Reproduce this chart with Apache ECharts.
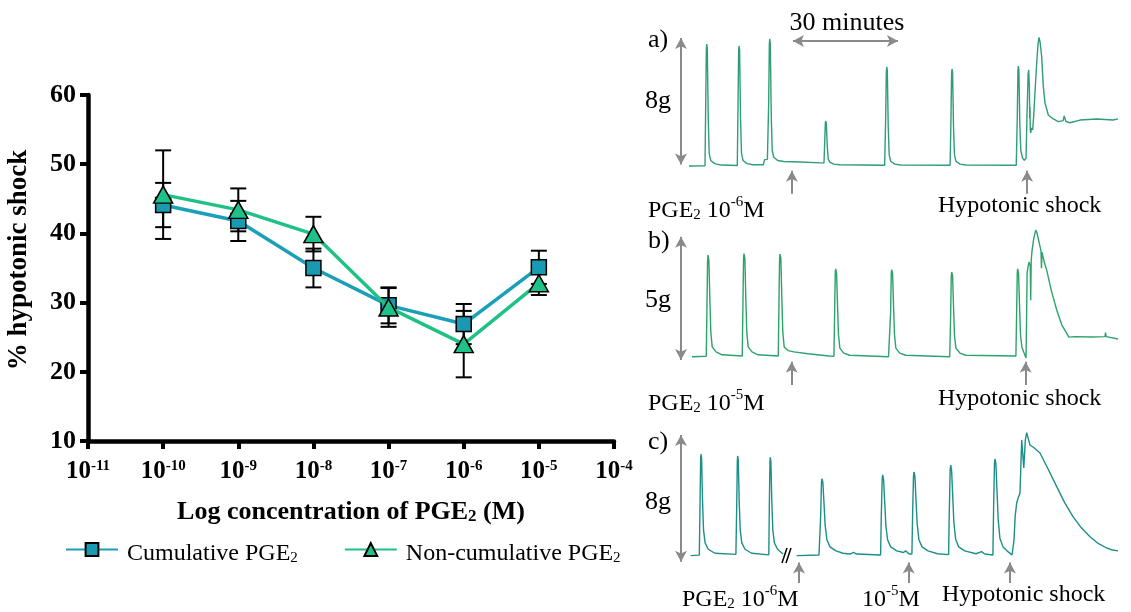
<!DOCTYPE html>
<html><head><meta charset="utf-8">
<script src="https://cdn.jsdelivr.net/npm/echarts@6/dist/echarts.min.js"></script>
<style>html,body{margin:0;padding:0;background:#fff}#c{width:1131px;height:612px}</style>
</head><body><div id="c"></div>
<script>
const F = '"Liberation Serif","Times New Roman",serif';

// ---- left panel data ----
const exponents = [-10, -9, -8, -7, -6, -5];
const cumulativeMean = [44.1, 41.8, 35.0, 29.6, 26.9, 35.1];
const cumulativeErr  = [3.2, 2.9, 2.8, 2.6, 2.9, 2.4];
const nonCumMean     = [45.6, 43.4, 39.9, 29.3, 24.0, 32.8];
const nonCumErr      = [6.4, 3.1, 2.5, 2.8, 4.8, 1.7];
const yTickMin = 10, yTickMax = 60, yTickStep = 10;
const xTickMin = -11, xTickMax = -4;

// ---- right panel traces: [time (min), tension (g)] ----
const traceA = [[0,0],[4.57,0.02],[4.77,3.8],[4.95,7.3],[5.06,7.67],[5.23,7.4],[5.49,3.1],[5.77,0.8],[6.2,0.35],[7.35,0.15],[9.06,0.06],[13.8,0.03],
[14.0,3.7],[14.18,7.2],[14.29,7.55],[14.46,7.3],[14.72,3.0],[15.0,0.8],[15.43,0.35],[16.58,0.15],[18.3,0.08],[21.2,0.08],[21.43,0.19],[21.6,0.4],[22.4,0.42],
[22.57,0.45],[22.77,4.0],[22.95,7.6],[23.06,7.99],[23.23,7.7],[23.49,3.3],[23.77,1.0],[24.2,0.55],[25.35,0.35],[27.06,0.28],[31.7,0.25],[37.7,0.2],
[38.57,0.2],[38.77,1.5],[38.95,2.7],[39.06,2.83],[39.23,2.7],[39.49,1.3],[39.77,0.45],[40.2,0.25],[41.35,0.12],[43.06,0.08],[55.9,0.05],
[56.2,3.1],[56.38,5.9],[56.49,6.23],[56.66,6.0],[56.92,2.5],[57.2,0.7],[57.63,0.3],[58.78,0.12],[60.5,0.06],[74.6,0.05],
[74.85,3.0],[75.03,5.8],[75.14,6.1],[75.31,5.9],[75.57,2.5],[75.85,0.7],[76.28,0.3],[77.43,0.12],[79.14,0.06],[93.5,0.05],
[93.8,3.1],[93.98,6.0],[94.09,6.29],[94.26,6.0],[94.52,2.6],[94.8,1.0],[95.3,0.5],[95.8,0.35],[96.0,0.27],[96.3,0.5],[96.55,3.0],[96.9,5.8],[97.06,6.04],[97.25,5.0],[97.35,3.0],[97.43,3.73],[97.5,2.3],[97.63,2.08],[97.9,2.4],[98.2,2.27],[98.5,3.2],[99.0,5.2],[99.34,6.48],[99.7,7.6],[100.0,8.09],[100.3,7.8],[100.77,6.87],[101.23,4.99],[101.71,3.96],[102.66,3.21],[104.09,2.96],[105.51,2.79],[106.9,2.85],[107.2,3.15],[107.43,3.08],[107.7,2.8],[108.86,2.72],[111.71,2.89],[116.49,2.96],[121.14,2.89],[122.57,2.96]];
const traceB = [[0.86,0],[4.93,0.02],[5.13,2.0],[5.31,3.9],[5.43,4.13],[5.68,3.9],[5.93,2.5],[6.23,1.0],[6.63,0.4],[7.73,0.2],[9.43,0.08],
[15.21,0.03],[15.41,2.1],[15.59,4.0],[15.71,4.19],[15.96,4.0],[16.21,2.5],[16.51,1.0],[16.91,0.4],[18.0,0.2],[19.7,0.08],
[25.5,0.03],[25.7,2.1],[25.88,4.0],[26.0,4.17],[26.25,4.0],[26.5,2.5],[26.8,1.0],[27.2,0.4],[28.3,0.25],[30.0,0.2],[34,0.12],[40,0.03],
[41.41,0.02],[41.61,1.8],[41.79,3.4],[41.91,3.57],[42.16,3.4],[42.41,2.2],[42.71,0.9],[43.11,0.35],[44.2,0.15],[45.9,0.06],[57.0,0.0],
[57.41,0.0],[57.61,1.8],[57.79,3.4],[57.91,3.54],[58.16,3.4],[58.41,2.2],[58.71,0.9],[59.11,0.35],[60.2,0.15],[61.9,0.06],[74.5,0.0],
[74.56,0.0],[74.76,1.7],[74.94,3.3],[75.06,3.44],[75.31,3.3],[75.56,2.1],[75.86,0.85],[76.26,0.35],[77.4,0.15],[79.1,0.06],[93.4,0.03],
[93.61,1.8],[93.79,3.4],[93.91,3.57],[94.16,3.4],[94.41,2.2],[94.71,0.9],[95.11,0.4],[95.6,0.2],[96.29,-0.05],
[96.45,1.5],[96.6,3.4],[96.86,3.65],[97.14,3.85],[97.5,3.7],[97.63,2.3],[97.77,3.9],[98.0,4.3],[98.5,4.8],[99.06,5.15],[99.4,5.05],[100.0,4.67],[100.57,4.3],[100.71,3.6],[100.86,4.25],[101.5,3.85],[102.2,3.52],[103.5,2.7],[105.06,1.9],[106.5,1.3],[107.9,0.96],[108.5,0.8],[110.3,0.82],[115.0,0.8],[118.86,0.82],[119.0,0.98],[119.2,0.82],[122.57,0.72]];
const traceC1 = [[0.49,0],[2.95,0.03],[3.15,3.2],[3.33,6.1],[3.43,6.38],[3.6,6.1],[3.86,3.5],[4.15,1.6],[4.6,0.8],[5.5,0.4],[7.4,0.15],[13.4,0.08],
[13.63,3.1],[13.81,6.0],[13.91,6.27],[14.08,6.0],[14.34,3.4],[14.63,1.6],[15.08,0.8],[16.0,0.4],[17.9,0.15],[22.8,0.05],
[22.95,3.1],[23.13,5.9],[23.23,6.19],[23.4,5.9],[23.66,3.4],[23.95,1.6],[24.4,0.8],[25.3,0.4],[26.86,0.1]];
const traceC2 = [[30.77,0],[37.14,0.04],[37.4,0.1],[37.6,2.4],[37.85,4.6],[38.0,4.84],[38.25,4.6],[38.57,3.3],[38.9,1.9],[39.4,1.0],[40.29,0.55],[42.0,0.3],[44,0.15],[46.0,0.1],[47.0,0.2],[47.43,0.25],[47.9,0.1],[48.29,0.04],[54.74,0.04],
[54.94,2.5],[55.19,4.8],[55.34,5.08],[55.59,4.8],[55.91,3.4],[56.24,1.9],[56.74,1.0],[57.63,0.55],[59.34,0.3],[61.3,0.2],[61.9,0.3],[62.4,0.3],[62.9,0.1],[63.69,0.1],
[63.89,2.6],[64.14,5.0],[64.29,5.26],[64.54,5.0],[64.86,3.5],[65.19,2.0],[65.69,1.0],[66.58,0.55],[68.29,0.3],[71,0.12],[74.17,0.06],
[74.37,2.8],[74.62,5.4],[74.77,5.7],[75.02,5.4],[75.34,3.8],[75.67,2.1],[76.17,1.05],[77.06,0.55],[78.77,0.3],[82,0.12],[83.6,0.25],[84.0,0.3],[84.5,0.1],[86.83,0.04],
[87.03,3.0],[87.28,5.8],[87.43,6.08],[87.68,5.8],[88.0,4.1],[88.33,2.3],[88.83,1.1],[89.72,0.55],[91.14,0.25],[92.29,0.04],
[92.86,0.98],[93.2,2.5],[93.63,3.31],[94.0,3.6],[94.57,3.94],[94.8,5.5],[95.06,7.28],[95.57,7.28],[95.65,5.52],[96.0,5.52],[96.1,7.28],[96.49,7.74],[97.0,7.3],[97.43,6.96],[98.5,6.8],[100.29,6.46],[102.7,5.4],[105.06,4.34],[107.4,3.3],[109.71,2.45],[112.1,1.75],[114.57,1.19],[117,0.75],[119.34,0.48],[121,0.35],[122.57,0.3]];

// annotation values (time in min, tension in g)
const scaleBarA = [0.1, 8.05], scaleBarB = [-0.13, 4.88], scaleBarC = [-0.38, 7.59];
const scaleBarTime = -2.29;
const thirtyMin = [29.7, 59.7], thirtyMinLevel = 7.86;
const arrowsA = [29.4, 96.6], arrowsB = [29.34, 96.2], arrowsC = [31.43, 62.77, 91.71];

const chart = echarts.init(document.getElementById('c'), null, {renderer: 'canvas'});
const black = '#000';
const gray = '#8a8a8a';

function errData(mean, err) {
  return exponents.map((x, i) => [x, mean[i] - err[i], mean[i] + err[i]]);
}
function errRender(params, api) {
  const x = api.value(0);
  const lo = api.coord([x, api.value(1)]);
  const hi = api.coord([x, api.value(2)]);
  const w = 8;
  const st = {stroke: black, lineWidth: 2};
  return {type: 'group', children: [
    {type: 'line', shape: {x1: lo[0], y1: lo[1], x2: hi[0], y2: hi[1]}, style: st},
    {type: 'line', shape: {x1: lo[0]-w, y1: lo[1], x2: lo[0]+w, y2: lo[1]}, style: st},
    {type: 'line', shape: {x1: hi[0]-w, y1: hi[1], x2: hi[0]+w, y2: hi[1]}, style: st}
  ]};
}

const traceX = {min: -4, max: 123};
function traceGrid(top, height) { return {left: 675, width: 444.5, top: top, height: height}; }
function arrowUp(t, g0, g1) {
  return [{coord: [t, g0], symbol: 'none'}, {coord: [t, g1], symbol: 'arrow'}];
}
const markCommon = {silent: true, animation: false, label: {show: false}, symbolSize: [9, 11],
  lineStyle: {color: gray, width: 2, type: 'solid'}, emphasis: {disabled: true}};

const subRich = {
  t: {fontFamily: F, fontSize: 24, color: black, lineHeight: 34, verticalAlign: 'bottom'},
  s: {fontFamily: F, fontSize: 15, color: black, verticalAlign: 'bottom', padding: [8, 0, 0, 0]},
  p: {fontFamily: F, fontSize: 15, color: black, verticalAlign: 'bottom', padding: [0, 0, 13, 0]}
};
function txt(x, y, text, size, align) {
  return {type: 'text', x: x, y: y, style: {text: text, fontFamily: F, fontSize: size || 24, fill: black,
    textAlign: align || 'left', textVerticalAlign: 'middle', rich: subRich}};
}

const option = {
  animation: false,
  backgroundColor: '#fff',
  legend: {
    left: 60, top: 537, itemWidth: 52, itemHeight: 16, itemGap: 46,
    data: ['Cumulative PGE2', 'Non-cumulative PGE2'],
    formatter: n => '{t|' + n.slice(0, -1) + '}{s|2}',
    textStyle: {fontFamily: F, fontSize: 24, color: black, padding: [0, 0, 0, 4],
      rich: {t: {fontFamily: F, fontSize: 24, lineHeight: 33, verticalAlign: 'bottom'},
             s: {fontFamily: F, fontSize: 15, verticalAlign: 'bottom', padding: [8, 0, 0, 0]}}}
  },
  grid: [
    {left: 88, width: 526, top: 95, height: 346},
    traceGrid(19.7, 181.3),
    traceGrid(223.9, 167.3),
    traceGrid(422.1, 168.5)
  ],
  xAxis: [
    {gridIndex: 0, type: 'value', min: xTickMin, max: xTickMax, interval: 1,
     axisLine: {lineStyle: {color: black, width: 4.5}},
     axisTick: {length: 8, lineStyle: {color: black, width: 4}},
     splitLine: {show: false},
     axisLabel: {margin: 18, formatter: v => '{b|10}{s|' + v + '}',
       rich: {b: {fontFamily: F, fontWeight: 'bold', fontSize: 25, color: black, lineHeight: 26},
              s: {fontFamily: F, fontWeight: 'bold', fontSize: 15, color: black, verticalAlign: 'top', lineHeight: 15}}},
     name: '{b|Log concentration of PGE}{s|2}{b| (M)}', nameLocation: 'middle', nameGap: 48,
     nameTextStyle: {rich: {b: {fontFamily: F, fontWeight: 'bold', fontSize: 26, color: black, lineHeight: 36, verticalAlign: 'bottom'},
                            s: {fontFamily: F, fontWeight: 'bold', fontSize: 17, color: black, verticalAlign: 'bottom', padding: [8, 0, 0, 0]}}}},
    Object.assign({gridIndex: 1, type: 'value', show: false}, traceX),
    Object.assign({gridIndex: 2, type: 'value', show: false}, traceX),
    Object.assign({gridIndex: 3, type: 'value', show: false}, traceX)
  ],
  yAxis: [
    {gridIndex: 0, type: 'value', min: yTickMin, max: yTickMax, interval: yTickStep,
     axisLine: {show: true, lineStyle: {color: black, width: 4.5}},
     axisTick: {show: true, length: 8, lineStyle: {color: black, width: 4}},
     splitLine: {show: false},
     axisLabel: {margin: 12, fontFamily: F, fontWeight: 'bold', fontSize: 26, color: black},
     name: '% hypotonic shock', nameLocation: 'middle', nameGap: 55,
     nameTextStyle: {fontFamily: F, fontWeight: 'bold', fontSize: 27, color: black, padding: [0, 0, 0, 16]}},
    {gridIndex: 1, type: 'value', show: false, min: -2.2, max: 9.2},
    {gridIndex: 2, type: 'value', show: false, min: -1.4, max: 5.4},
    {gridIndex: 3, type: 'value', show: false, min: -2.2, max: 8.4}
  ],
  series: [
    {type: 'custom', name: 'errC', xAxisIndex: 0, yAxisIndex: 0, z: 1, renderItem: errRender,
     data: errData(cumulativeMean, cumulativeErr), encode: {x: 0, y: [1, 2]}, silent: true},
    {type: 'custom', name: 'errN', xAxisIndex: 0, yAxisIndex: 0, z: 1, renderItem: errRender,
     data: errData(nonCumMean, nonCumErr), encode: {x: 0, y: [1, 2]}, silent: true},
    {type: 'line', name: 'Cumulative PGE2', xAxisIndex: 0, yAxisIndex: 0, z: 3,
     data: exponents.map((x, i) => [x, cumulativeMean[i]]),
     lineStyle: {color: '#1a9fb8', width: 3.5}, symbol: 'rect', symbolSize: 15,
     itemStyle: {color: '#1a9ab0', borderColor: black, borderWidth: 1.5}},
    {type: 'line', name: 'Non-cumulative PGE2', xAxisIndex: 0, yAxisIndex: 0, z: 4,
     data: exponents.map((x, i) => [x, nonCumMean[i]]),
     lineStyle: {color: '#1fc185', width: 3.5}, symbol: 'triangle', symbolSize: [19, 17],
     itemStyle: {color: '#20c08a', borderColor: black, borderWidth: 1.5}},

    {type: 'line', xAxisIndex: 1, yAxisIndex: 1, data: traceA, symbol: 'none',
     lineStyle: {color: '#2f9e74', width: 1.4},
     markLine: Object.assign({}, markCommon, {data: [
       [{coord: [scaleBarTime, scaleBarA[0]], symbol: 'arrow'}, {coord: [scaleBarTime, scaleBarA[1]], symbol: 'arrow'}],
       [{coord: [thirtyMin[0], thirtyMinLevel], symbol: 'arrow'}, {coord: [thirtyMin[1], thirtyMinLevel], symbol: 'arrow'}],
       arrowUp(arrowsA[0], -1.75, -0.3), arrowUp(arrowsA[1], -1.75, -0.3)
     ]})},
    {type: 'line', xAxisIndex: 2, yAxisIndex: 2, data: traceB, symbol: 'none',
     lineStyle: {color: '#2ea26b', width: 1.4},
     markLine: Object.assign({}, markCommon, {data: [
       [{coord: [scaleBarTime, scaleBarB[0]], symbol: 'arrow'}, {coord: [scaleBarTime, scaleBarB[1]], symbol: 'arrow'}],
       arrowUp(arrowsB[0], -1.15, -0.2), arrowUp(arrowsB[1], -1.15, -0.2)
     ]})},
    {type: 'line', xAxisIndex: 3, yAxisIndex: 3, data: traceC1, symbol: 'none',
     lineStyle: {color: '#1b8f88', width: 1.4},
     markLine: Object.assign({}, markCommon, {data: [
       [{coord: [scaleBarTime, scaleBarC[0]], symbol: 'arrow'}, {coord: [scaleBarTime, scaleBarC[1]], symbol: 'arrow'}],
       arrowUp(arrowsC[0], -1.72, -0.44), arrowUp(arrowsC[1], -1.72, -0.44), arrowUp(arrowsC[2], -1.72, -0.44)
     ]})},
    {type: 'line', xAxisIndex: 3, yAxisIndex: 3, data: traceC2, symbol: 'none',
     lineStyle: {color: '#1b8f88', width: 1.4},
     markLine: {silent: true, symbol: 'none', label: {show: false}, lineStyle: {color: black, width: 1.5, type: 'solid'},
       data: [[{coord: [26.57, -0.46]}, {coord: [28.0, 0.48]}], [{coord: [27.71, -0.46]}, {coord: [29.14, 0.48]}]]}}
  ],
  graphic: [
    txt(648, 40, 'a)', 26), txt(645, 101, '8g', 26), txt(847, 23, '30 minutes', 26, 'center'),
    txt(648, 206, '{t|PGE}{s|2}{t| 10}{p|-6}{t|M}'), txt(938, 206, 'Hypotonic shock'),
    txt(648, 241, 'b)', 26), txt(645, 300, '5g', 26),
    txt(648, 399, '{t|PGE}{s|2}{t| 10}{p|-5}{t|M}'), txt(938, 399, 'Hypotonic shock'),
    txt(648, 442, 'c)', 26), txt(645, 502, '8g', 26),
    txt(682, 595, '{t|PGE}{s|2}{t| 10}{p|-6}{t|M}'), txt(862, 595, '{t|10}{p|-5}{t|M}'), txt(942, 595, 'Hypotonic shock')
  ]
};
chart.setOption(option);
</script></body></html>
